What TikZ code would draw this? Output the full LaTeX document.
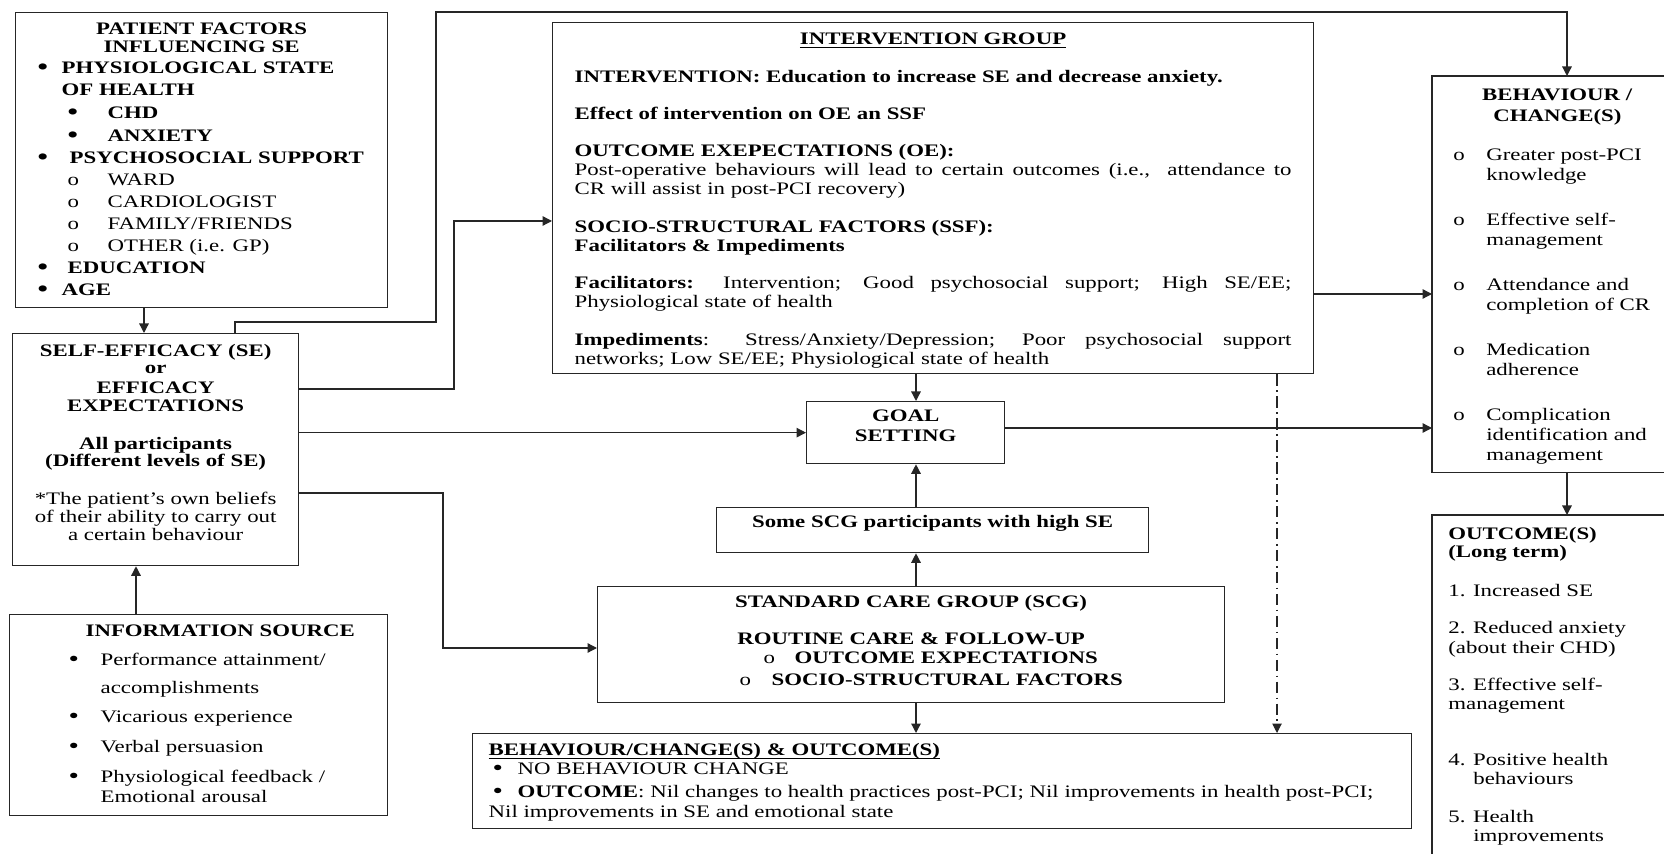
\documentclass[tikz,border=0pt]{standalone}
\usepackage{fontspec}
\setmainfont{Liberation Serif}[FakeStretch=1.3]
\usetikzlibrary{arrows.meta}

% text helpers: indented item, centred line, fixed-size text box
\newcommand{\itm}[3]{\hspace*{#1}\makebox[#2][l]{#3}}
\newcommand{\ctr}[1]{\makebox[\linewidth]{#1}}
\newcommand{\bul}{\raisebox{-0.5pt}{\fontsize{13pt}{0pt}\selectfont\textbullet}}
\newcommand{\uln}[1]{\underline{\smash{#1}}}
\newcommand{\boxtxt}[5]{\parbox[c][#2][t]{#1}{\setlength{\baselineskip}{#3}\lineskiplimit=-10pt\lineskip=0pt\rule{0pt}{#4}#5}}

\begin{document}
\fontsize{10pt}{12pt}\selectfont
\begin{tikzpicture}[x={(0.02cm,0cm)},y={(0cm,-0.02cm)},
  frame/.style={draw=black!85,line width=0.75pt,inner sep=0pt,anchor=north west},
  open/.style={inner sep=0pt,anchor=north west},
  boxline/.style={draw=black!85,line width=0.75pt},
  arr/.style={draw=black!85,line width=0.75pt,-{Triangle[length=1.9mm,width=1.9mm]}},
  dashdot/.style={arr,line width=0.6pt,dash pattern=on 6.5pt off 2.5pt on 1pt off 2.5pt}]
\useasboundingbox (0,0) rectangle (1664,854);

% left column
\node[frame,font=\bfseries] (pf) at (15,12) {\boxtxt{7.44cm}{5.9cm}{0.44cm}{0.44cm}{%
\ctr{PATIENT FACTORS}\\[-0.08cm]
\ctr{INFLUENCING SE}\\[-0.02cm]
\itm{0.44cm}{0.48cm}{\bul}PHYSIOLOGICAL STATE\\
\hspace*{0.92cm}OF HEALTH\\[0.02cm]
\itm{1.04cm}{0.8cm}{\bul}CHD\\[0.02cm]
\itm{1.04cm}{0.8cm}{\bul}ANXIETY\\
\itm{0.44cm}{0.64cm}{\bul}PSYCHOSOCIAL SUPPORT\\
{\mdseries\itm{1.04cm}{0.8cm}{o}WARD}\\
{\mdseries\itm{1.04cm}{0.8cm}{o}CARDIOLOGIST}\\
{\mdseries\itm{1.04cm}{0.8cm}{o}FAMILY/FRIENDS}\\
{\mdseries\itm{1.04cm}{0.8cm}{o}OTHER (i.e. GP)}\\
\itm{0.44cm}{0.6cm}{\bul}EDUCATION\\
\itm{0.44cm}{0.48cm}{\bul}AGE}};

\node[frame] (se) at (12,333) {\boxtxt{5.72cm}{4.64cm}{0.36cm}{0.46cm}{%
\ctr{\textbf{SELF-EFFICACY (SE)}}\\[-0.02cm]
\ctr{\textbf{or}}\\[0.04cm]
\ctr{\textbf{EFFICACY}}\\
\ctr{\textbf{EXPECTATIONS}}\\[0.4cm]
\ctr{\textbf{All participants}}\\[-0.02cm]
\ctr{\textbf{(Different levels of SE)}}\\[0.4cm]
\ctr{*The patient's own beliefs}\\
\ctr{of their ability to carry out}\\
\ctr{a certain behaviour}}};

\node[frame] (info) at (9,614) {\boxtxt{7.56cm}{4.02cm}{0.58cm}{0.44cm}{%
\hspace*{1.52cm}\textbf{INFORMATION SOURCE}\\
\itm{1.18cm}{0.64cm}{\bul}Performance attainment/\\[-0.02cm]
\hspace*{1.82cm}accomplishments\\
\itm{1.18cm}{0.64cm}{\bul}Vicarious experience\\[0.02cm]
\itm{1.18cm}{0.64cm}{\bul}Verbal persuasion\\[0.02cm]
\itm{1.18cm}{0.64cm}{\bul}Physiological feedback /\\[-0.18cm]
\hspace*{1.82cm}Emotional arousal}};

% middle column
\node[frame,inner xsep=0.44cm] (ig) at (552,22) {\boxtxt{14.34cm}{7.02cm}{0.38cm}{0.44cm}{%
\ctr{\textbf{\uln{INTERVENTION GROUP}}}\\[0.38cm]
\mbox{\textbf{INTERVENTION: Education to increase SE and decrease anxiety.}}\\[0.36cm]
\textbf{Effect of intervention on OE an SSF}\\[0.36cm]
\textbf{OUTCOME EXEPECTATIONS (OE):}\\
\makebox[\linewidth][s]{Post-operative behaviours will lead to certain outcomes (i.e.,\ \ attendance to}\\
CR will assist in post-PCI recovery)\\[0.38cm]
\textbf{SOCIO-STRUCTURAL FACTORS (SSF):}\\
\textbf{Facilitators \& Impediments}\\[0.36cm]
\makebox[\linewidth][s]{\textbf{Facilitators:} Intervention; Good psychosocial support; High SE/EE;}\\
Physiological state of health\\[0.38cm]
\makebox[\linewidth][s]{\textbf{Impediments}: Stress/Anxiety/Depression; Poor psychosocial support}\\
networks; Low SE/EE; Physiological state of health}};

\node[frame,font=\bfseries] (goal) at (806,401) {\boxtxt{3.96cm}{1.24cm}{0.39cm}{0.4cm}{%
\ctr{GOAL}\\
\ctr{SETTING}}};

\node[frame,font=\bfseries] (some) at (716,507) {\boxtxt{8.64cm}{0.9cm}{0.4cm}{0.4cm}{%
\ctr{Some SCG participants with high SE}}};

\node[frame,font=\bfseries] (scg) at (597,586) {\boxtxt{12.54cm}{2.32cm}{0.4cm}{0.42cm}{%
\ctr{STANDARD CARE GROUP (SCG)}\\[0.34cm]
\ctr{ROUTINE CARE \& FOLLOW-UP}\\[-0.02cm]
\itm{3.32cm}{0.62cm}{\mdseries o}OUTCOME EXPECTATIONS\\[0.04cm]
\itm{2.84cm}{0.64cm}{\mdseries o}SOCIO-STRUCTURAL FACTORS}};

\node[frame,inner xsep=0.32cm] (nochg) at (472,733) {\boxtxt{18.14cm}{1.9cm}{0.4cm}{0.44cm}{%
\textbf{\uln{BEHAVIOUR/CHANGE(S) \& OUTCOME(S)}}\\[-0.02cm]
\itm{0.08cm}{0.5cm}{\bul}NO BEHAVIOUR CHANGE\\[0.06cm]
\mbox{\itm{0.08cm}{0.5cm}{\bul}\textbf{OUTCOME}: Nil changes to health practices post-PCI; Nil improvements in health post-PCI;}\\
Nil improvements in SE and emotional state}};

% right column (cut off at the right edge)
\node[open] (beh) at (1432,76) {\boxtxt{5cm}{7.92cm}{0.4cm}{0.48cm}{%
\ctr{\textbf{BEHAVIOUR /}}\\[0.02cm]
\ctr{\textbf{CHANGE(S)}}\\[0.38cm]
\itm{0.42cm}{0.66cm}{o}Greater post-PCI\\
\hspace*{1.08cm}knowledge\\[0.5cm]
\itm{0.42cm}{0.66cm}{o}Effective self-\\
\hspace*{1.08cm}management\\[0.5cm]
\itm{0.42cm}{0.66cm}{o}Attendance and\\
\hspace*{1.08cm}completion of CR\\[0.5cm]
\itm{0.42cm}{0.66cm}{o}Medication\\
\hspace*{1.08cm}adherence\\[0.5cm]
\itm{0.42cm}{0.66cm}{o}Complication\\
\hspace*{1.08cm}identification and\\
\hspace*{1.08cm}management}};
\draw[boxline] ([xshift=4.64cm]beh.north west) -- (beh.north west) -- (beh.south west) -- ([xshift=4.64cm]beh.south west);

\node[open,inner xsep=0.32cm] (outc) at (1432,515) {\boxtxt{4cm}{6.78cm}{0.38cm}{0.48cm}{%
\textbf{OUTCOME(S)}\\[-0.02cm]
\textbf{(Long term)}\\[0.4cm]
1. Increased SE\\[0.36cm]
2. Reduced anxiety\\[0.02cm]
(about their CHD)\\[0.36cm]
3. Effective self-\\
management\\[0.74cm]
4. Positive health\\
\hspace*{0.5cm}behaviours\\[0.38cm]
5. Health\\
\hspace*{0.5cm}improvements}};
\draw[boxline] (outc.south west) -- (outc.north west) -- (outc.north east);

% connectors
\coordinate (xa) at (144,0);
\coordinate (xb) at (136,0);
\coordinate (xc) at (235,0);
\coordinate (k1) at (436,322);
\coordinate (xe) at (1567,12);
\coordinate (j1) at (454,389);
\coordinate (j2) at (454,221);
\coordinate (j3) at (443,493);
\coordinate (j4) at (443,648);
\coordinate (xg) at (916,0);
\coordinate (xh) at (1277,0);
\coordinate (yi) at (0,294);
\coordinate (yj) at (0,428);

\draw[arr] (pf.south -| xa) -- (se.north -| xa);
\draw[arr] (info.north -| xb) -- (se.south -| xb);
\draw[arr] (se.north -| xc) |- (k1) |- (xe) -- (beh.north -| xe);
\draw[arr] (se.east |- j1) -- (j1) -- (j2) -- (ig.west |- j2);
\draw[arr] (se.east |- goal.west) -- (goal.west);
\draw[arr] (se.east |- j3) -- (j3) -- (j4) -- (scg.west |- j4);
\draw[arr] (ig.south -| xg) -- (goal.north -| xg);
\draw[arr] (some.north -| xg) -- (goal.south -| xg);
\draw[arr] (scg.north -| xg) -- (some.south -| xg);
\draw[arr] (scg.south -| xg) -- (nochg.north -| xg);
\draw[dashdot] (ig.south -| xh) -- (nochg.north -| xh);
\draw[arr] (ig.east |- yi) -- (beh.west |- yi);
\draw[arr] (goal.east |- yj) -- (beh.west |- yj);
\draw[arr] (beh.south -| xe) -- (outc.north -| xe);
\end{tikzpicture}
\end{document}
